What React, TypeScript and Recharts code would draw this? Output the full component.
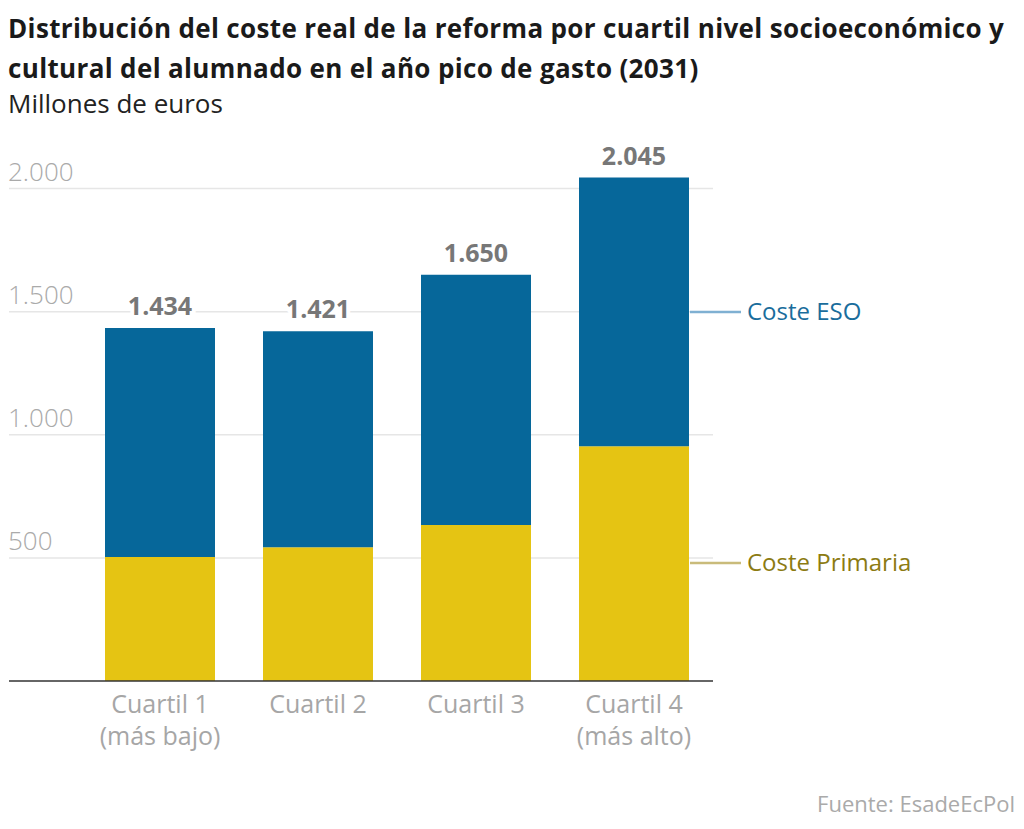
import React from 'react';
import { BarChart, Bar, XAxis, YAxis, CartesianGrid, LabelList, Legend } from 'recharts';

const categories = ['Cuartil 1', 'Cuartil 2', 'Cuartil 3', 'Cuartil 4'];
const subLabels = ['(más bajo)', '', '', '(más alto)'];
const primaria = [504, 543, 634, 954];
const eso = [930, 878, 1016, 1091];
const totals = [1434, 1421, 1650, 2045];
const yTicks = [0, 500, 1000, 1500, 2000];
const gridValues = [500, 1000, 1500, 2000];

const data = categories.map((c, i) => ({
  name: c,
  sub: subLabels[i],
  primaria: primaria[i],
  eso: eso[i],
  total: totals[i],
}));

const fmt = (v: number) => v.toLocaleString('de-DE');

const FONT = '"Open Sans", Roboto, sans-serif';
const BLUE = '#06679a';
const YELLOW = '#e5c413';

const renderYTick = (props: any) => {
  const { y, payload } = props;
  if (payload.value === 0) return <g />;
  return (
    <text x={8} y={y - 8} fill="#aaaaaa" fontSize={26} fontFamily={FONT} fontWeight={300} textAnchor="start">
      {fmt(payload.value)}
    </text>
  );
};

const renderXTick = (props: any) => {
  const { x, y, payload, index } = props;
  const sub = subLabels[index] ?? '';
  return (
    <g>
      <text x={x} y={y + 24} fill="#a6a6a6" fontSize={25} fontFamily={FONT} textAnchor="middle">
        {payload.value}
      </text>
      {sub ? (
        <text x={x} y={y + 56} fill="#a6a6a6" fontSize={25} fontFamily={FONT} textAnchor="middle">
          {sub}
        </text>
      ) : null}
    </g>
  );
};

const TotalLabel = (props: any) => {
  const { x, y, width, index } = props;
  return (
    <text
      x={x + width / 2}
      y={y - 13}
      fill="#777777"
      fontSize={25}
      fontWeight={700}
      fontFamily={FONT}
      textAnchor="middle"
      stroke="#ffffff"
      strokeWidth={8}
      paintOrder="stroke"
    >
      {fmt(totals[index])}
    </text>
  );
};

const LegendContent = () => (
  <div style={{ position: 'relative', width: 0, height: 0, overflow: 'visible' }}>
    <svg width={260} height={300} style={{ position: 'absolute', left: 0, top: 0, overflow: 'visible' }}>
      <line x1={0} y1={11} x2={51} y2={11} stroke="#7fb0d2" strokeWidth={2.5} />
      <text x={57} y={19} fill="#1a6d9c" fontSize={24} fontFamily={FONT}>Coste ESO</text>
      <line x1={0} y1={262} x2={51} y2={262} stroke="#c9bb7a" strokeWidth={2.5} />
      <text x={57} y={270} fill="#8c7b12" fontSize={24} fontFamily={FONT}>Coste Primaria</text>
    </svg>
  </div>
);

export default function App() {
  return (
    <div style={{ position: 'absolute', left: 0, top: 0, width: 1024, height: 829, background: '#fff', fontFamily: FONT }}>
      <div style={{ position: 'absolute', left: 8, top: 8, fontSize: 26, fontWeight: 700, color: '#1a1a1a', lineHeight: '40px', letterSpacing: 0.35, width: 1016, whiteSpace: 'nowrap' }}>
        <div>Distribución del coste real de la reforma por cuartil nivel socioeconómico y</div>
        <div>cultural del alumnado en el año pico de gasto (2031)</div>
      </div>
      <div style={{ position: 'absolute', left: 8, top: 89, fontSize: 26, color: '#222', lineHeight: '28px' }}>
        Millones de euros
      </div>
      <div style={{ position: 'absolute', left: 0, top: 0 }}>
        <BarChart
          width={1024}
          height={829}
          data={data}
          margin={{ top: 164, right: 311, bottom: 88, left: 8 }}
        >
          <CartesianGrid horizontal vertical={false} horizontalValues={gridValues} stroke="#e6e6e6" strokeWidth={1.5} />
          <YAxis
            width={1}
            domain={[0, 2100]}
            ticks={yTicks}
            axisLine={false}
            tickLine={false}
            tick={renderYTick}
            interval={0}
          />
          <XAxis
            dataKey="name"
            height={60}
            padding={{ left: 72, right: 0 }}
            axisLine={{ stroke: '#333333', strokeWidth: 1.5 }}
            tickLine={false}
            tick={renderXTick}
            interval={0}
          />
          <Legend
            verticalAlign="top"
            align="left"
            content={<LegendContent />}
            wrapperStyle={{ position: 'absolute', left: 690, top: 301, width: 0, height: 0 }}
          />
          <Bar dataKey="primaria" name="Coste Primaria" stackId="a" fill={YELLOW} barSize={110} isAnimationActive={false} />
          <Bar dataKey="eso" name="Coste ESO" stackId="a" fill={BLUE} barSize={110} isAnimationActive={false}>
            <LabelList dataKey="total" content={<TotalLabel />} />
          </Bar>
        </BarChart>
      </div>
      <div style={{ position: 'absolute', right: 9, top: 788, fontSize: 22, color: '#aaaaaa' }}>
        Fuente: EsadeEcPol
      </div>
    </div>
  );
}
